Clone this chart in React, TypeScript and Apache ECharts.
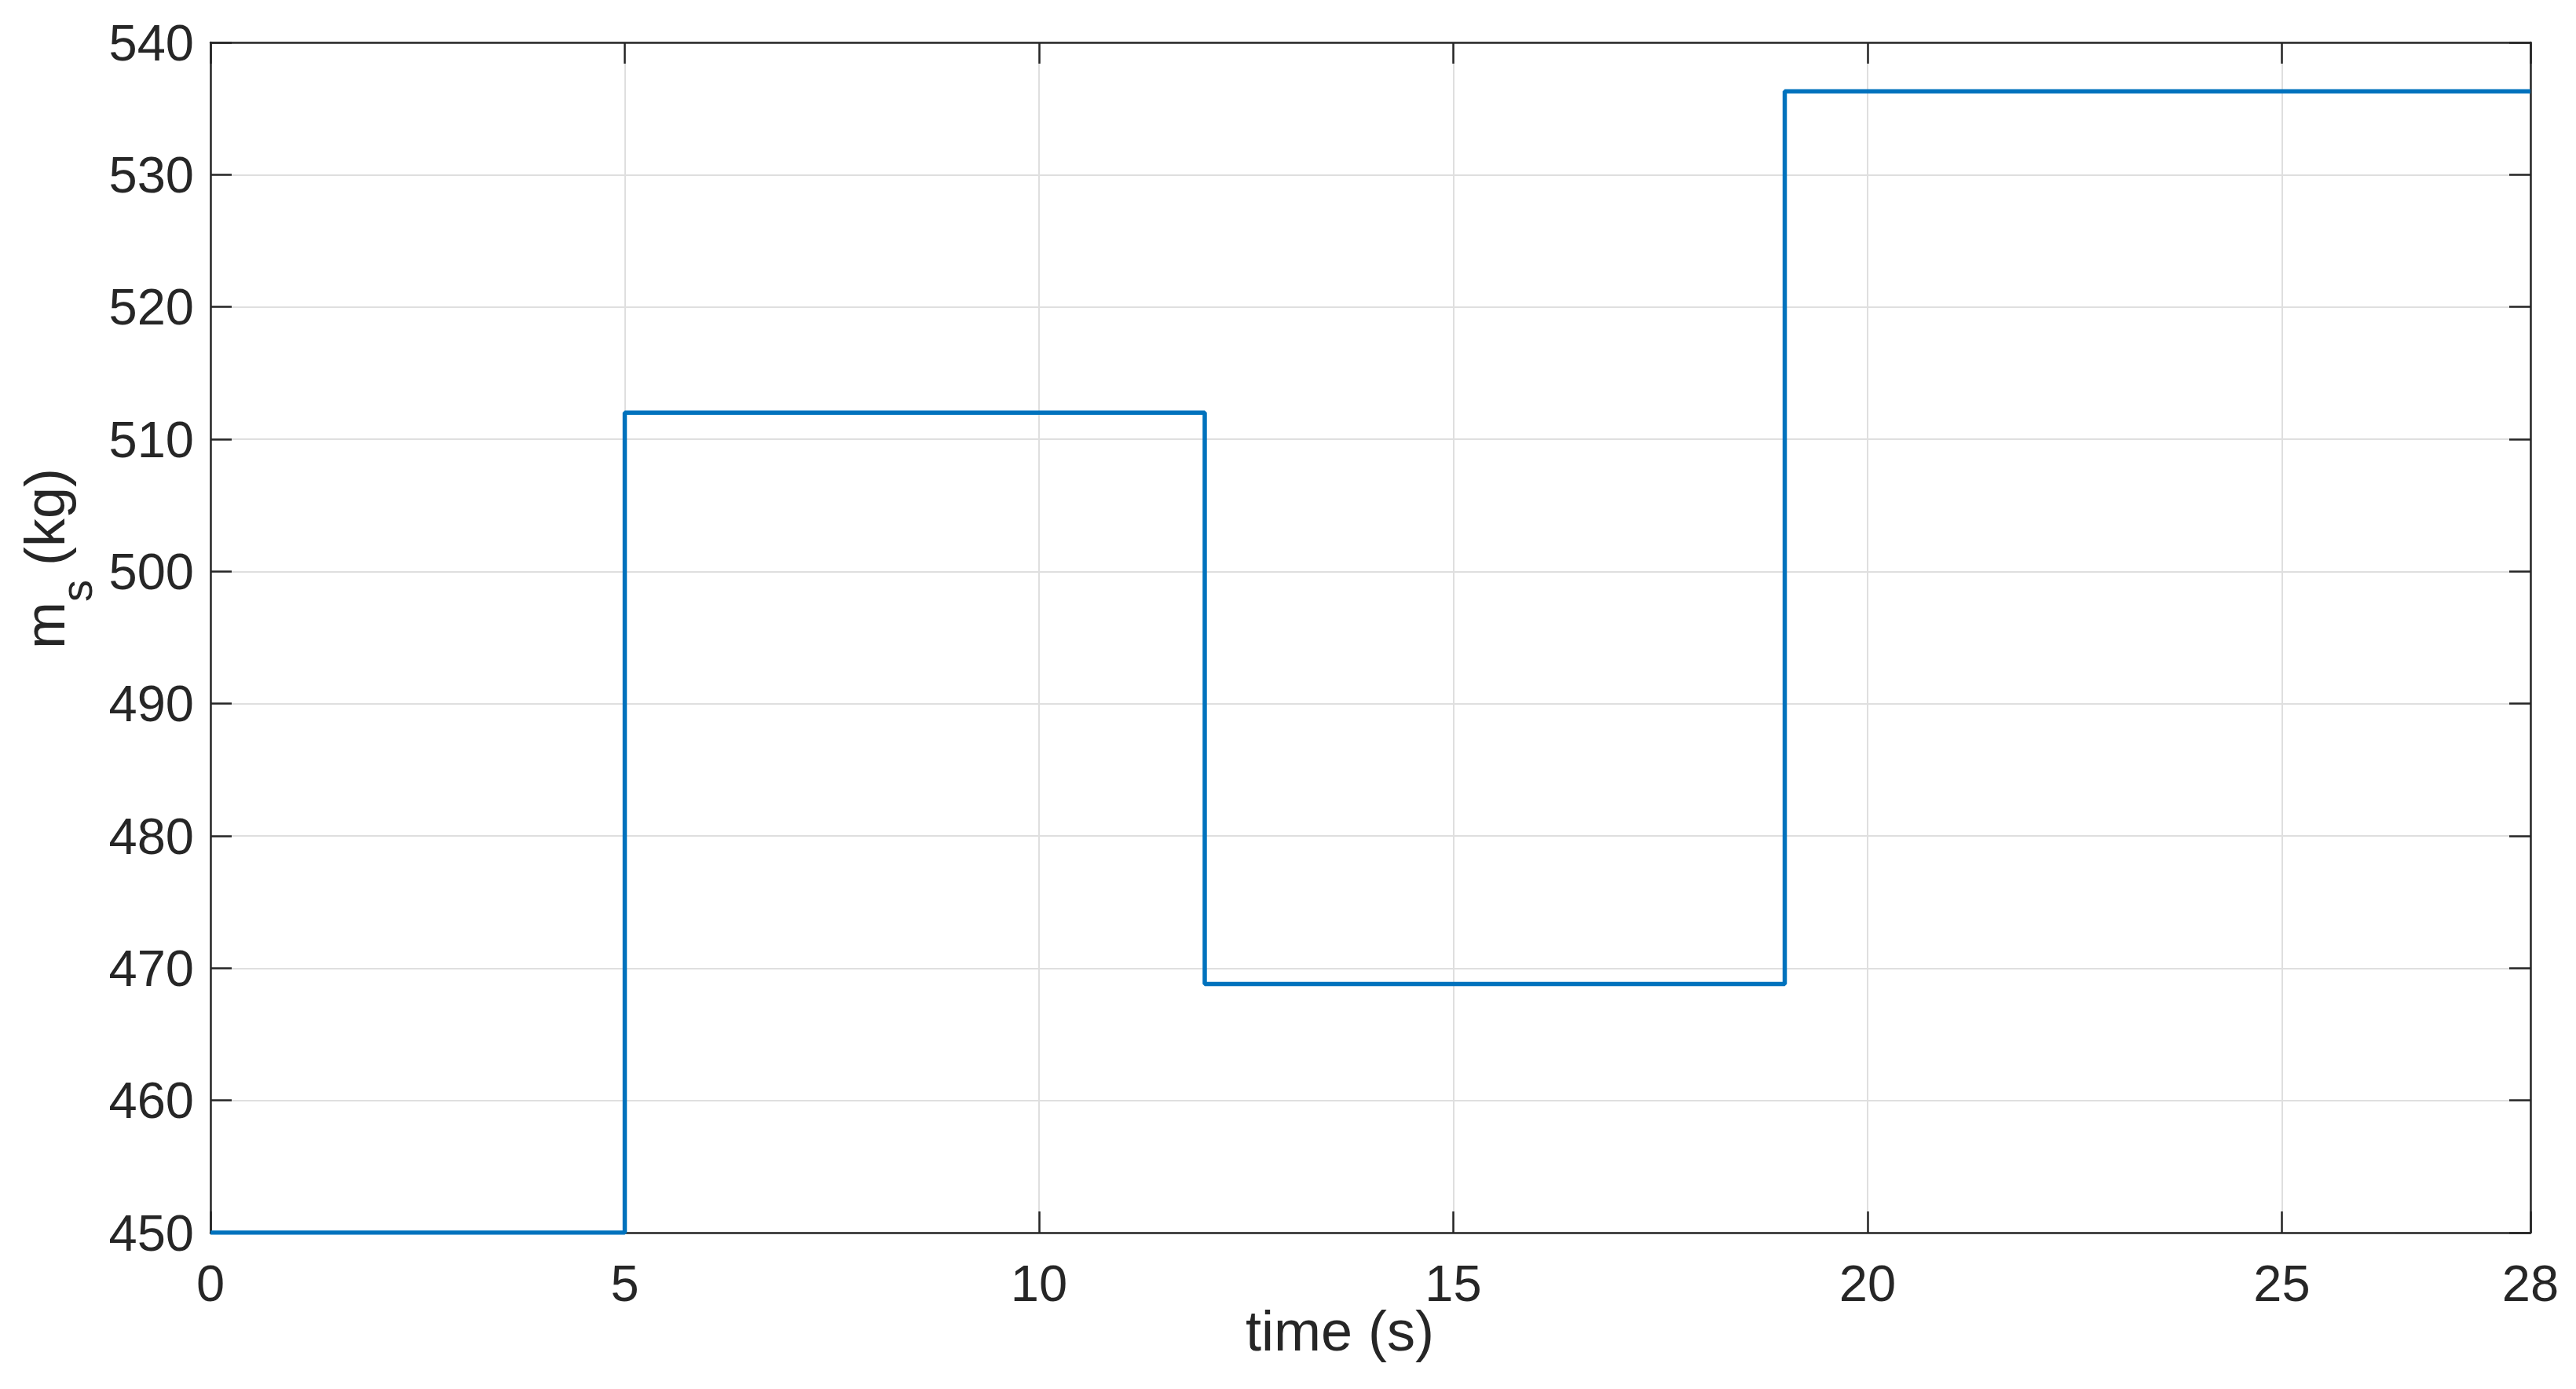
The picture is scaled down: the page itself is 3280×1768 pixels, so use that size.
import React, { useEffect, useRef } from "react";
import * as echarts from "echarts";

const stepTimes = [0, 5, 12, 19, 28];
const massValues = [450, 512, 468.8, 536.3, 536.3];
const xRange = [0, 28];
const yRange = [450, 540];
const xTickStep = 5;
const yTickStep = 10;

const FONT = "'Liberation Sans', Arial, Helvetica, sans-serif";
const AX = "#262626";

export default function App() {
  const ref = useRef<HTMLDivElement>(null);
  useEffect(() => {
    if (!ref.current) return;
    const chart = echarts.init(ref.current, undefined, { renderer: "svg" });
    const data = stepTimes.map((t, i) => [t, massValues[i]]);
    const axisLine = { show: true, onZero: false, lineStyle: { color: AX, width: 2.5 } };
    const tick = { show: true, inside: true, length: 27, lineStyle: { color: AX, width: 2.5 } };
    const label = { fontSize: 65, color: AX, fontFamily: FONT };
    chart.setOption({
      animation: false,
      backgroundColor: "#ffffff",
      grid: { left: 268, top: 54, width: 2954, height: 1515, containLabel: false },
      xAxis: [
        {
          type: "value", position: "bottom", min: xRange[0], max: xRange[1], interval: xTickStep,
          axisLine, axisTick: tick,
          axisLabel: { ...label, margin: 32, showMaxLabel: true, showMinLabel: true },
          splitLine: { show: true, lineStyle: { color: "#dfdfdf", width: 2 } },
        },
        {
          type: "value", position: "top", min: xRange[0], max: xRange[1], interval: xTickStep,
          axisLine, axisTick: tick, axisLabel: { show: false }, splitLine: { show: false },
        },
      ],
      yAxis: [
        {
          type: "value", position: "left", min: yRange[0], max: yRange[1], interval: yTickStep,
          axisLine, axisTick: tick,
          axisLabel: { ...label, margin: 21 },
          splitLine: { show: true, lineStyle: { color: "#dfdfdf", width: 2 } },
        },
        {
          type: "value", position: "right", min: yRange[0], max: yRange[1], interval: yTickStep,
          axisLine, axisTick: tick, axisLabel: { show: false }, splitLine: { show: false },
        },
      ],
      series: [
        {
          type: "line",
          xAxisIndex: 0,
          yAxisIndex: 0,
          step: "end",
          data,
          symbol: "none",
          showSymbol: false,
          lineStyle: { color: "#0072BD", width: 5.5 },
          z: 5,
        },
      ],
      graphic: [
        {
          type: "text",
          x: 1586,
          y: 1694,
          style: {
            text: "time (s)",
            font: `72px ${FONT}`,
            fill: AX,
            align: "left",
            verticalAlign: "middle",
            textAlign: "left",
            textVerticalAlign: "middle",
          },
        },
        {
          type: "group",
          x: 82,
          y: 826,
          rotation: Math.PI / 2,
          children: [
            {
              type: "text", x: 0, y: -25,
              style: { text: "m", font: `72px ${FONT}`, fill: AX, align: "left", verticalAlign: "middle", textAlign: "left", textVerticalAlign: "middle" },
            },
            {
              type: "text", x: 60, y: 15,
              style: { text: "s", font: `56px ${FONT}`, fill: AX, align: "left", verticalAlign: "middle", textAlign: "left", textVerticalAlign: "middle" },
            },
            {
              type: "text", x: 106, y: -25,
              style: { text: "(kg)", font: `72px ${FONT}`, fill: AX, align: "left", verticalAlign: "middle", textAlign: "left", textVerticalAlign: "middle" },
            },
          ],
        },
      ],
    });
    return () => chart.dispose();
  }, []);
  return (
    <div
      ref={ref}
      style={{ position: "fixed", left: 0, top: 0, width: 3280, height: 1768, background: "#fff" }}
    />
  );
}
